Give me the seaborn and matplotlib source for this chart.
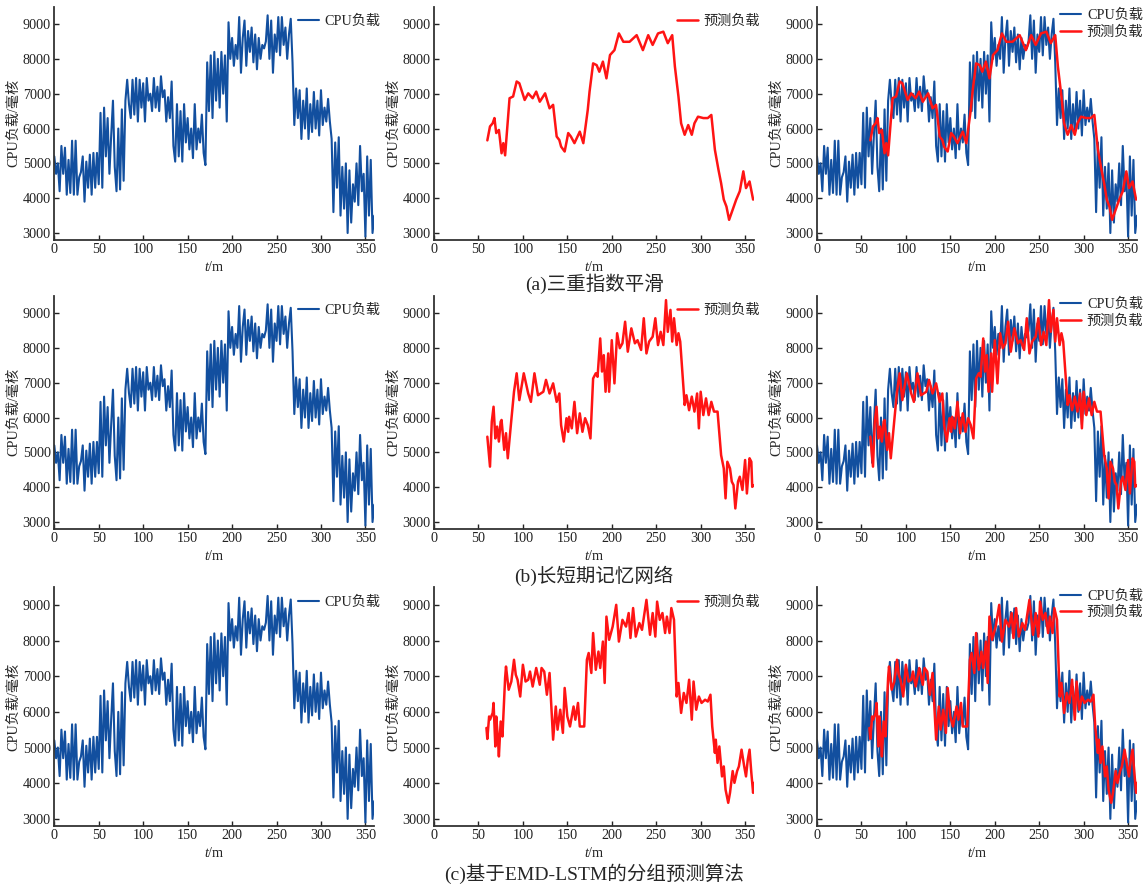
import matplotlib
matplotlib.use("Agg")
import matplotlib.pyplot as plt
import seaborn as sns
import pandas as pd

# ---------------- data ----------------
cpu_t = list(range(0, 361, 2))
cpu_load = [
    5200, 4700, 5000, 4200, 5500, 4700, 5450, 4100, 5100, 4150,
    5650, 4100, 5650, 4100, 4600, 4750, 5200, 3900, 5050, 4300,
    5250, 4100, 5300, 4300, 5300, 4400, 6450, 4300, 6600, 5200,
    6300, 4700, 5800, 6800, 4900, 4200, 6000, 4250, 6550, 4500,
    6800, 7400, 6700, 6300, 7400, 6400, 7450, 6200, 7400, 6600,
    7300, 6200, 7450, 6800, 7000, 6500, 7450, 6600, 7200, 6500,
    7500, 6900, 7100, 6200, 6900, 6300, 7350, 5500, 5050, 6700,
    5200, 6500, 5050, 6700, 5600, 6300, 5400, 6000, 5150, 6700,
    5400, 6000, 5600, 6400, 5300, 4950, 7900, 6500, 8100, 6300,
    8200, 6800, 8000, 6600, 8200, 7000, 8100, 6200, 9050, 8000,
    8600, 7800, 8400, 8000, 9200, 7600, 8600, 9100, 7800, 8800,
    8200, 8900, 7900, 8700, 7700, 8600, 8000, 8400, 8300, 8500,
    9250, 8000, 9100, 7600, 8700, 8200, 9200, 8100, 9200, 8400,
    8900, 8000, 8700, 9150, 7900, 6100, 7150, 6300, 7100, 5700,
    6800, 6000, 7150, 5700, 6700, 5900, 7050, 6000, 6800, 5800,
    7100, 6100, 6600, 6200, 6850, 6200, 5700, 3600, 5600, 4300,
    5750, 3500, 4900, 3700, 5000, 3000, 4800, 3300, 4400, 3900,
    5000, 3800, 5500, 4200, 4700, 2900, 5200, 3500, 5100, 3000,
    3500,
]

# (a) triple exponential smoothing prediction
pred_a_t = [60, 63, 66, 68, 70, 73, 76, 78, 80, 85, 89, 93, 96, 102, 106, 111, 115,
            119, 125, 130, 134, 138, 141, 143, 147, 151, 154, 158, 164, 168, 173,
            175, 179, 183, 186, 190, 194, 198, 203, 208, 213, 220, 228, 235, 241,
            246, 252, 258, 263, 268, 271, 275, 278, 282, 286, 290, 293, 297, 303,
            308, 312, 316, 320, 323, 326, 329, 332, 336, 340, 344, 348, 351, 355, 359]
pred_a = [5660, 6060, 6150, 6300, 5870, 5960, 5290, 5580, 5230, 6870, 6920, 7350,
          7300, 6820, 7010, 6870, 7060, 6770, 7010, 6580, 6680, 5770, 5670, 5480,
          5340, 5870, 5770, 5580, 5910, 5580, 6540, 7060, 7870, 7820, 7630, 7920,
          7440, 8110, 8250, 8730, 8490, 8490, 8680, 8250, 8680, 8400, 8730, 8780,
          8450, 8680, 7780, 6920, 6150, 5820, 6100, 5820, 6150, 6340, 6300, 6300,
          6390, 5390, 4820, 4430, 3960, 3760, 3380, 3670, 3960, 4200, 4770, 4290,
          4480, 3960]

# (b) LSTM prediction
pred_b_t = [60, 63, 65, 67, 69, 71, 73, 75, 76, 79, 81, 83, 87, 90, 93, 96, 101, 106,
            109, 113, 117, 123, 126, 130, 134, 138, 141, 143, 146, 149, 151, 152, 155,
            158, 161, 164, 167, 170, 173, 176, 179, 182, 184, 187, 189, 191, 193, 196,
            197, 200, 203, 206, 209, 212, 215, 218, 222, 226, 229, 233, 236, 239, 242,
            246, 249, 252, 255, 258, 261, 263, 266, 268, 270, 273, 275, 277, 282, 284,
            287, 290, 293, 296, 298, 300, 303, 306, 309, 312, 315, 319, 323, 326, 328,
            330, 333, 335, 337, 339, 342, 344, 347, 350, 352, 355, 357, 358, 360]
pred_b = [5450, 4590, 5880, 6310, 5400, 5740, 5310, 5880, 5930, 5070, 5550, 4830,
          5930, 6740, 7270, 6500, 7270, 6690, 6450, 7270, 6640, 6740, 7080, 6690,
          6980, 6450, 6690, 5780, 5310, 5980, 5590, 6020, 5690, 6450, 5550, 6120,
          5590, 5980, 5780, 5400, 7120, 7270, 7170, 8270, 7320, 7790, 6740, 7840,
          6740, 8220, 6980, 8420, 7990, 8130, 8750, 7890, 8560, 8130, 8220, 7940,
          8850, 7840, 8180, 8320, 8850, 8080, 8460, 8080, 9370, 8460, 9090, 8180,
          8850, 8080, 8420, 8180, 6360, 6640, 6210, 6600, 6170, 6690, 5690, 6740,
          6070, 6550, 6070, 6450, 6170, 6170, 4920, 4540, 3680, 4730, 4540, 4160,
          4060, 3390, 4160, 4300, 3920, 4780, 3820, 4830, 4730, 4010, 4060]

# (c) EMD-LSTM grouped prediction
pred_c_t = [59, 60, 62, 63, 66, 67, 69, 70, 72, 73, 75, 77, 80, 81, 84, 87, 90, 92,
            94, 97, 100, 103, 106, 108, 111, 115, 119, 121, 124, 127, 130, 134, 137,
            139, 142, 145, 147, 150, 153, 157, 159, 162, 164, 169, 172, 174, 177, 179,
            182, 185, 187, 190, 192, 194, 197, 201, 205, 208, 212, 216, 219, 221, 224,
            227, 231, 234, 239, 243, 246, 249, 251, 254, 257, 260, 262, 265, 267, 270,
            273, 275, 278, 281, 284, 287, 290, 292, 295, 298, 301, 305, 308, 311, 313,
            316, 317, 319, 321, 324, 326, 328, 331, 333, 336, 338, 341, 343, 346, 349,
            351, 353, 355, 357, 359, 360]
pred_c = [5550, 5240, 5870, 5780, 5970, 6250, 5030, 5870, 5220, 4750, 5730, 5310,
          6950, 7270, 6620, 6850, 7460, 7040, 6900, 6430, 7320, 6850, 6900, 7130,
          6710, 7230, 6760, 7230, 7130, 6480, 7090, 5220, 6150, 5500, 6060, 5410,
          6670, 5870, 5590, 6150, 5780, 6250, 5590, 5590, 7460, 7650, 7090, 8210,
          7180, 7690, 7230, 7970, 6810, 8670, 8020, 8390, 9000, 7970, 8580, 8390,
          8770, 8070, 8910, 8110, 8490, 8300, 9140, 8160, 8770, 8110, 9090, 8580,
          8770, 8210, 8670, 8210, 8910, 8580, 6430, 6810, 5970, 6530, 6250, 6900,
          5780, 6850, 6060, 6430, 6250, 6340, 6290, 6480, 5590, 4850, 5220, 4570,
          5030, 4190, 4470, 3820, 3450, 3730, 4340, 4010, 4340, 4470, 4940, 4470,
          4190, 4660, 4940, 4290, 3730, 4010]

captions = ["(a)三重指数平滑", "(b)长短期记忆网络", "(c)基于EMD-LSTM的分组预测算法"]
cpu_label = "CPU负载"
pred_label = "预测负载"
y_label = "CPU负载/毫核"
x_ticks = [0, 50, 100, 150, 200, 250, 300, 350]
y_ticks = [3000, 4000, 5000, 6000, 7000, 8000, 9000]

# ---------------- style ----------------
sns.set_style("ticks")
plt.rcParams["font.family"] = ["Liberation Serif", "Noto Sans CJK SC", "DejaVu Sans"]
plt.rcParams["mathtext.fontset"] = "custom"
plt.rcParams["mathtext.it"] = "Liberation Serif:italic"
plt.rcParams["mathtext.rm"] = "Liberation Serif"
plt.rcParams["axes.unicode_minus"] = False

BLUE = "#124f9f"
RED = "#ff1414"
FS = 10.2

W, H = 1144, 888
fig = plt.figure(figsize=(W / 100, H / 100), dpi=100)

col_left = [54.3, 434, 817]
col_w = 320
rows = [(6.6, 240), (295.6, 529), (587, 826)]

df_cpu = pd.DataFrame({"t": cpu_t, "v": cpu_load})
preds = [(pred_a_t, pred_a), (pred_b_t, pred_b), (pred_c_t, pred_c)]

for r, (top, bot) in enumerate(rows):
    pt, pv = preds[r]
    df_pred = pd.DataFrame({"t": pt, "v": pv})
    for c in range(3):
        ax = fig.add_axes([col_left[c] / W, 1 - bot / H, col_w / W, (bot - top) / H])
        if c in (0, 2):
            sns.lineplot(data=df_cpu, x="t", y="v", ax=ax, color=BLUE, linewidth=1.5,
                         label=cpu_label)
        if c in (1, 2):
            sns.lineplot(data=df_pred, x="t", y="v", ax=ax, color=RED, linewidth=1.8,
                         label=pred_label)
        ax.set_xlim(0, 360)
        ax.set_ylim(2800, 9500)
        ax.set_xticks(x_ticks)
        ax.set_yticks(y_ticks)
        ax.tick_params(direction="in", length=3.5, width=1, labelsize=FS, pad=2.5,
                       colors="#222222")
        for s in ["top", "right"]:
            ax.spines[s].set_visible(False)
        for s in ["left", "bottom"]:
            ax.spines[s].set_linewidth(1.3)
            ax.spines[s].set_color("#333333")
        ax.set_ylabel(y_label, fontsize=FS, labelpad=1.5)
        ax.set_xlabel(r"$\mathit{t}$/m", fontsize=FS, labelpad=2.5)
        ax.legend(loc="upper right", bbox_to_anchor=(1.02, 0.965 if c < 2 else 0.99),
                  frameon=False, fontsize=FS, handlelength=1.5, handletextpad=0.4,
                  borderaxespad=0, borderpad=0, labelspacing=0.25)

cap_y = [284, 576, 874]
for r in range(3):
    fig.text(594 / W, 1 - cap_y[r] / H, captions[r], ha="center", va="center",
             fontsize=14)

fig.savefig("out.png", dpi=100)
